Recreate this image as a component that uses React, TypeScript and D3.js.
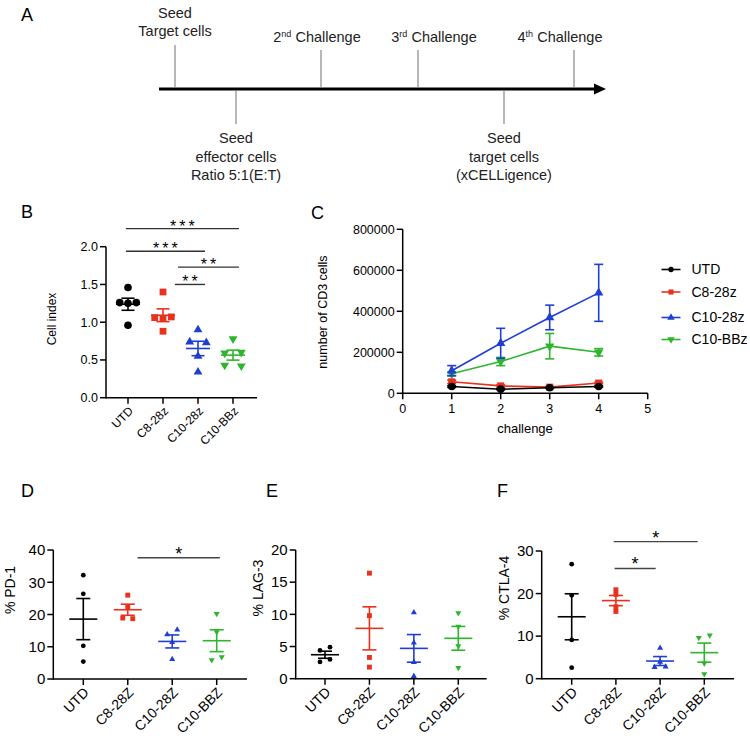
import React from "react";
import * as d3 from "d3";

const FONT = "'Liberation Sans', Arial, Helvetica, sans-serif";

// ---------- DATA ----------
const groupsB = ["UTD", "C8-28z", "C10-28z", "C10-BBz"];
const groupsDEF = ["UTD", "C8-28Z", "C10-28Z", "C10-BBZ"];
const groupColors = ["#000000", "#e8321e", "#1f3fd1", "#2db52d"];
const groupShapes = ["circle", "square", "triangle", "triangleDown"];

// Panel B: cell index
const cellIndexUTD = [1.46, 1.26, 1.25, 1.26, 0.96];
const cellIndexC8 = [1.40, 1.06, 1.05, 1.07, 0.88];
const cellIndexC10_28 = [0.90, 0.74, 0.73, 0.55, 0.34];
const cellIndexC10_BB = [0.78, 0.59, 0.60, 0.43, 0.42];
const yTicksB = [0, 0.5, 1.0, 1.5, 2.0];

// Panel C: number of CD3 cells per challenge (mean, SEM)
const challenges = [1, 2, 3, 4];
const cd3UTD = [33000, 20000, 27000, 33000];
const cd3UTDsem = [4000, 3000, 3000, 3000];
const cd3C8 = [56000, 36000, 30000, 50000];
const cd3C8sem = [8000, 5000, 3000, 4000];
const cd3C10_28 = [110000, 244000, 370000, 490000];
const cd3C10_28sem = [25000, 73000, 60000, 139000];
const cd3C10_BB = [95000, 155000, 230000, 200000];
const cd3C10_BBsem = [8000, 20000, 62000, 18000];
const xTicksC = [0, 1, 2, 3, 4, 5];
const yTicksC = [0, 200000, 400000, 600000, 800000];

// Panel D: % PD-1
const pd1UTD = [32.2, 26.4, 10.3, 5.4];
const pd1C8 = [26.0, 22.3, 18.9, 18.7];
const pd1C10_28 = [13.8, 15.3, 11.4, 6.1];
const pd1C10_BB = [20.2, 14.6, 5.9, 6.8];
const yTicksD = [0, 10, 20, 30, 40];

// Panel E: % LAG-3
const lag3UTD = [4.4, 4.9, 2.6, 3.0];
const lag3C8 = [16.4, 9.8, 3.3, 1.8];
const lag3C10_28 = [10.3, 5.6, 2.55, 0.4];
const lag3C10_BB = [10.2, 8.1, 5.1, 1.7];
const yTicksE = [0, 5, 10, 15, 20];

// Panel F: % CTLA-4
const ctla4UTD = [26.9, 19.6, 9.1, 2.6];
const ctla4C8 = [19.8, 20.9, 15.8, 16.9];
const ctla4C10_28 = [2.7, 3.9, 2.8, 7.2];
const ctla4C10_BB = [9.6, 10.2, 3.6, 1.1];
const yTicksF = [0, 10, 20, 30];

// significance annotations: [from index, to index, y value, label]
const sigB: [number, number, number, string][] = [
  [-0.06, 3.17, 2.24, "***"],
  [-0.06, 2.2, 1.94, "***"],
  [1.43, 3.17, 1.73, "**"],
  [1.34, 2.2, 1.5, "**"],
];
const sigD: [number, number, number, string][] = [[1.22, 3.07, 37.6, "*"]];
const sigE: [number, number, number, string][] = [];
const sigF: [number, number, number, string][] = [
  [0.95, 2.85, 32.2, "*"],
  [0.97, 1.9, 25.9, "*"],
];

// Panel A timeline events
const eventsAbove = [
  { main: "Seed", sub: "Target cells" },
  { ord: "2", sup: "nd", text: " Challenge" },
  { ord: "3", sup: "rd", text: " Challenge" },
  { ord: "4", sup: "th", text: " Challenge" },
];
const eventsBelow = [
  ["Seed", "effector cells", "Ratio 5:1(E:T)"],
  ["Seed", "target cells", "(xCELLigence)"],
];

// ---------- HELPERS ----------
function symbolPath(shape: string, size: number) {
  const type =
    shape === "circle"
      ? d3.symbolCircle
      : shape === "square"
      ? d3.symbolSquare
      : d3.symbolTriangle;
  return d3.symbol().type(type).size(size)() as string;
}

function Marker({ shape, x, y, size, color }: any) {
  const rot = shape === "triangleDown" ? " rotate(180)" : "";
  return (
    <path
      d={symbolPath(shape, size)}
      transform={`translate(${x},${y})${rot}`}
      fill={color}
      stroke="none"
    />
  );
}

function swarmOffsets(vals: number[], y: (v: number) => number, thr: number, s: number) {
  const idx = vals.map((_, i) => i).sort((a, b) => vals[a] - vals[b]);
  const clusters: number[][] = [];
  idx.forEach((i, k) => {
    if (k > 0 && Math.abs(y(vals[i]) - y(vals[idx[k - 1]])) < thr) {
      clusters[clusters.length - 1].push(i);
    } else clusters.push([i]);
  });
  const off = vals.map(() => 0);
  clusters.forEach((c) => {
    const members = c.slice().sort((a, b) => a - b);
    const n = members.length;
    members.forEach((m, j) => {
      if (n === 2) off[m] = j === 0 ? -s : s;
      else off[m] = (j - (n - 1) / 2) * s;
    });
  });
  return off;
}

type DotCfg = {
  groups: string[];
  values: number[][];
  yDomain: [number, number];
  yTicks: number[];
  fmt: (v: number) => string;
  axisLeft: number;
  axisRight: number;
  pFirst: number;
  pLast: number;
  yBottom: number;
  yTop: number;
  yLabel: string;
  yLabelX: number;
  yLabelY: number;
  tickFont: number;
  xFont: number;
  labelFont: number;
  sizes: number[];
  meanHalf: number;
  whiskerHalf: number;
  thr: number;
  spread: number;
  sig: [number, number, number, string][];
  sigFont: number;
  sigDy: number;
  sigColor: string;
  sigSpacing: number;
};

function DotPlot(c: DotCfg) {
  const y = d3.scaleLinear().domain(c.yDomain).range([c.yBottom, c.yTop]);
  const xi = d3.scaleLinear().domain([0, c.groups.length - 1]).range([c.pFirst, c.pLast]);
  return (
    <g fontFamily={FONT}>
      {/* axes */}
      <line x1={c.axisLeft} x2={c.axisLeft} y1={c.yBottom + 0.75} y2={y(c.yDomain[1])} stroke="#000" strokeWidth={1.5} />
      <line x1={c.axisLeft} x2={c.axisRight} y1={c.yBottom} y2={c.yBottom} stroke="#000" strokeWidth={1.5} />
      {c.yTicks.map((t) => (
        <g key={"yt" + t}>
          <line x1={c.axisLeft - 6} x2={c.axisLeft} y1={y(t)} y2={y(t)} stroke="#000" strokeWidth={1.5} />
          <text x={c.axisLeft - 8} y={y(t)} dy="0.35em" textAnchor="end" fontSize={c.tickFont}>
            {c.fmt(t)}
          </text>
        </g>
      ))}
      {c.groups.map((g, i) => (
        <g key={"xt" + g}>
          <line x1={xi(i)} x2={xi(i)} y1={c.yBottom} y2={c.yBottom + 6} stroke="#000" strokeWidth={1.5} />
          <text
            transform={`translate(${xi(i) + 3},${c.yBottom + 11}) rotate(-45)`}
            textAnchor="end"
            dy="0.35em"
            fontSize={c.xFont}
          >
            {g}
          </text>
        </g>
      ))}
      <text
        transform={`translate(${c.yLabelX},${c.yLabelY}) rotate(-90)`}
        textAnchor="middle"
        fontSize={c.labelFont}
      >
        {c.yLabel}
      </text>
      {/* data */}
      {c.values.map((vals, i) => {
        const cx = xi(i);
        const m = d3.mean(vals) as number;
        const sem = (d3.deviation(vals) as number) / Math.sqrt(vals.length);
        const off = swarmOffsets(vals, y, c.thr, c.spread);
        const col = groupColors[i];
        return (
          <g key={"grp" + i}>
            {vals.map((v, k) => (
              <Marker key={k} shape={groupShapes[i]} x={cx + off[k]} y={y(v)} size={c.sizes[i]} color={col} />
            ))}
            <line x1={cx - c.meanHalf} x2={cx + c.meanHalf} y1={y(m)} y2={y(m)} stroke={col} strokeWidth={1.6} />
            <line x1={cx} x2={cx} y1={y(m - sem)} y2={y(m + sem)} stroke={col} strokeWidth={1.6} />
            <line x1={cx - c.whiskerHalf} x2={cx + c.whiskerHalf} y1={y(m - sem)} y2={y(m - sem)} stroke={col} strokeWidth={1.6} />
            <line x1={cx - c.whiskerHalf} x2={cx + c.whiskerHalf} y1={y(m + sem)} y2={y(m + sem)} stroke={col} strokeWidth={1.6} />
          </g>
        );
      })}
      {c.sig.map(([a, b, v, lab], k) => (
        <g key={"sig" + k}>
          <line x1={xi(a)} x2={xi(b)} y1={y(v)} y2={y(v)} stroke={c.sigColor} strokeWidth={1.4} />
          <text
            x={(xi(a) + xi(b)) / 2 + c.sigSpacing / 2}
            y={y(v) + c.sigDy}
            textAnchor="middle"
            fontSize={c.sigFont}
            letterSpacing={c.sigSpacing}
          >
            {lab}
          </text>
        </g>
      ))}
    </g>
  );
}

function PanelA() {
  const axisY = 89;
  const aboveX = [175, 321, 418, 574];
  const aboveTextX = [175, 317, 434, 560];
  const belowX = [236, 504];
  const fs = 14.5;
  return (
    <g fontFamily={FONT}>
      <text x={21} y={21} fontSize={18}>A</text>
      <line x1={159} x2={596} y1={axisY} y2={axisY} stroke="#000" strokeWidth={3} />
      <path d={`M594,${axisY - 5.5} L606,${axisY} L594,${axisY + 5.5} Z`} fill="#000" />
      {aboveX.map((x, i) => (
        <line key={"a" + i} x1={x} x2={x} y1={i === 0 ? 45 : 50} y2={axisY - 1} stroke="#888" strokeWidth={1.2} />
      ))}
      {belowX.map((x, i) => (
        <line key={"b" + i} x1={x} x2={x} y1={axisY + 1} y2={124} stroke="#888" strokeWidth={1.2} />
      ))}
      <text x={aboveTextX[0]} y={18} textAnchor="middle" fontSize={fs} fill="#222">
        {eventsAbove[0].main}
      </text>
      <text x={aboveTextX[0]} y={36} textAnchor="middle" fontSize={fs} fill="#222">
        {eventsAbove[0].sub}
      </text>
      {eventsAbove.slice(1).map((e: any, i) => (
        <text key={"c" + i} x={aboveTextX[i + 1]} y={42} textAnchor="middle" fontSize={fs} fill="#222">
          {e.ord}
          <tspan dy={-5} fontSize={9}>{e.sup}</tspan>
          <tspan dy={5}>{e.text}</tspan>
        </text>
      ))}
      {eventsBelow.map((lines, i) =>
        lines.map((t, k) => (
          <text key={"d" + i + k} x={belowX[i]} y={143 + k * 18.5} textAnchor="middle" fontSize={fs} fill="#222">
            {t}
          </text>
        ))
      )}
    </g>
  );
}

function PanelC() {
  const x = d3.scaleLinear().domain([0, 5]).range([402.7, 647.7]);
  const y = d3.scaleLinear().domain([0, 800000]).range([393.3, 229.3]);
  const series = [
    { name: "C10-BBz", m: cd3C10_BB, s: cd3C10_BBsem, ci: 3 },
    { name: "C10-28z", m: cd3C10_28, s: cd3C10_28sem, ci: 2 },
    { name: "C8-28z", m: cd3C8, s: cd3C8sem, ci: 1 },
    { name: "UTD", m: cd3UTD, s: cd3UTDsem, ci: 0 },
  ];
  const sizes = [46, 50, 38, 38];
  const line = d3
    .line<number>()
    .x((_, i) => x(challenges[i]))
    .y((d) => y(d));
  const legendNames = ["UTD", "C8-28z", "C10-28z", "C10-BBz"];
  const legendY = [269.5, 292, 317.5, 339.5];
  const legendSizes = [22, 26, 24, 24];
  return (
    <g fontFamily={FONT}>
      <text x={311} y={219} fontSize={18}>C</text>
      <line x1={x(0)} x2={x(0)} y1={y(0)} y2={y(800000)} stroke="#000" strokeWidth={1.5} />
      <line x1={x(0)} x2={x(5)} y1={y(0)} y2={y(0)} stroke="#000" strokeWidth={1.5} />
      {yTicksC.map((t) => (
        <g key={"y" + t}>
          <line x1={x(0) - 6} x2={x(0)} y1={y(t)} y2={y(t)} stroke="#000" strokeWidth={1.5} />
          <text x={x(0) - 8} y={y(t)} dy="0.35em" textAnchor="end" fontSize={12.5}>
            {t}
          </text>
        </g>
      ))}
      {xTicksC.map((t) => (
        <g key={"x" + t}>
          <line x1={x(t)} x2={x(t)} y1={y(0)} y2={y(0) + 6} stroke="#000" strokeWidth={1.5} />
          <text x={x(t)} y={413} textAnchor="middle" fontSize={12.5}>
            {t}
          </text>
        </g>
      ))}
      <text x={525} y={433} textAnchor="middle" fontSize={13}>challenge</text>
      <text transform={`translate(327,312) rotate(-90)`} textAnchor="middle" fontSize={12.5}>
        number of CD3 cells
      </text>
      {series.map((s) => {
        const col = groupColors[s.ci];
        return (
          <g key={s.name}>
            <path d={line(s.m) as string} fill="none" stroke={col} strokeWidth={1.6} />
            {s.m.map((v, i) => {
              const cx = x(challenges[i]);
              const lo = y(v - s.s[i]);
              const hi = y(v + s.s[i]);
              return (
                <g key={i}>
                  <line x1={cx} x2={cx} y1={lo} y2={hi} stroke={col} strokeWidth={1.6} />
                  <line x1={cx - 4.5} x2={cx + 4.5} y1={lo} y2={lo} stroke={col} strokeWidth={1.6} />
                  <line x1={cx - 4.5} x2={cx + 4.5} y1={hi} y2={hi} stroke={col} strokeWidth={1.6} />
                  <Marker shape={groupShapes[s.ci]} x={cx} y={y(v)} size={sizes[s.ci]} color={col} />
                </g>
              );
            })}
          </g>
        );
      })}
      {legendNames.map((n, i) => (
        <g key={"lg" + n}>
          <line x1={661.5} x2={680.5} y1={legendY[i]} y2={legendY[i]} stroke={groupColors[i]} strokeWidth={1.6} />
          <Marker shape={groupShapes[i]} x={671} y={legendY[i]} size={legendSizes[i]} color={groupColors[i]} />
          <text x={691.5} y={legendY[i]} dy="0.35em" fontSize={14}>
            {n}
          </text>
        </g>
      ))}
    </g>
  );
}

export default function App() {
  const fmtB = (v: number) => v.toFixed(1);
  const fmtInt = (v: number) => String(v);
  const common = {
    tickFont: 15,
    xFont: 14,
    labelFont: 14,
    sizes: [18, 24, 16, 16],
    meanHalf: 14,
    whiskerHalf: 7,
    spread: 5,
    sigFont: 18,
    sigDy: 2,
    sigColor: "#444",
    sigSpacing: 0,
  };
  return (
    <svg
      width={750}
      height={739}
      style={{ position: "absolute", left: 0, top: 0, background: "#fff" }}
    >
      <rect width={750} height={739} fill="#fff" />
      <PanelA />
      <text x={21} y={218} fontSize={18} fontFamily={FONT}>B</text>
      <DotPlot
        groups={groupsB}
        values={[cellIndexUTD, cellIndexC8, cellIndexC10_28, cellIndexC10_BB]}
        yDomain={[0, 2]}
        yTicks={yTicksB}
        fmt={fmtB}
        axisLeft={106}
        axisRight={257}
        pFirst={128}
        pLast={233}
        yBottom={397.7}
        yTop={246.7}
        yLabel="Cell index"
        yLabelX={56}
        yLabelY={319}
        tickFont={12.5}
        xFont={12}
        labelFont={12}
        sizes={[46, 46, 34, 34]}
        meanHalf={12}
        whiskerHalf={6.5}
        thr={7}
        spread={8.3}
        sig={sigB}
        sigFont={16}
        sigDy={3}
        sigColor="#333"
        sigSpacing={3}
      />
      <PanelC />
      <text x={21} y={497} fontSize={18} fontFamily={FONT}>D</text>
      <DotPlot
        {...common}
        groups={groupsDEF}
        values={[pd1UTD, pd1C8, pd1C10_28, pd1C10_BB]}
        yDomain={[0, 40]}
        yTicks={yTicksD}
        fmt={fmtInt}
        axisLeft={53.3}
        axisRight={247}
        pFirst={83.3}
        pLast={216.7}
        yBottom={679}
        yTop={550}
        yLabel="% PD-1"
        yLabelX={15}
        yLabelY={590}
        thr={6}
        sig={sigD}
      />
      <text x={266} y={497} fontSize={18} fontFamily={FONT}>E</text>
      <DotPlot
        {...common}
        groups={groupsDEF}
        values={[lag3UTD, lag3C8, lag3C10_28, lag3C10_BB]}
        yDomain={[0, 20]}
        yTicks={yTicksE}
        fmt={fmtInt}
        axisLeft={295.7}
        axisRight={486.7}
        pFirst={325}
        pLast={458.3}
        yBottom={678.7}
        yTop={550}
        yLabel="% LAG-3"
        yLabelX={263}
        yLabelY={588}
        thr={6}
        sig={sigE}
      />
      <text x={497} y={497} fontSize={18} fontFamily={FONT}>F</text>
      <DotPlot
        {...common}
        groups={groupsDEF}
        values={[ctla4UTD, ctla4C8, ctla4C10_28, ctla4C10_BB]}
        yDomain={[0, 30]}
        yTicks={yTicksF}
        fmt={fmtInt}
        axisLeft={541.7}
        axisRight={734}
        pFirst={571.7}
        pLast={704.3}
        yBottom={678.7}
        yTop={551}
        yLabel="% CTLA-4"
        yLabelX={509}
        yLabelY={588}
        thr={4.5}
        spread={5.5}
        sig={sigF}
      />
    </svg>
  );
}
